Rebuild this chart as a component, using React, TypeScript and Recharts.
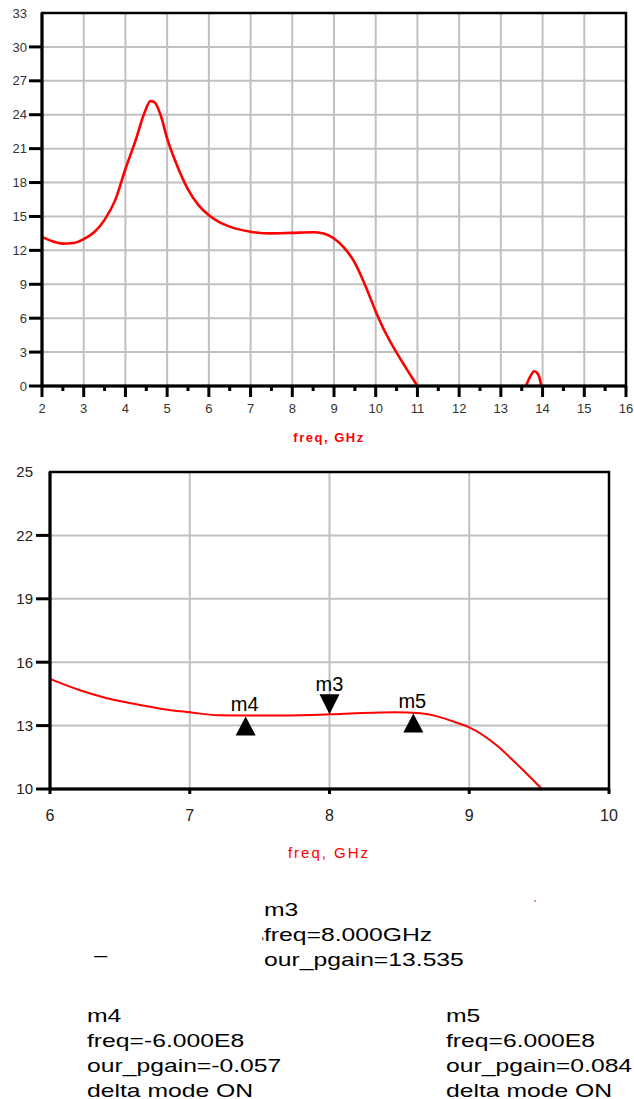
import React from 'react';
import { LineChart, Line, XAxis, YAxis, CartesianGrid, ReferenceArea, ReferenceDot } from 'recharts';

const FONT = '"Liberation Sans", Arial, sans-serif';

// Top chart: full sweep
const topFreq = [2.0, 2.25, 2.5, 2.75, 3.0, 3.25, 3.5, 3.75, 4.0, 4.25, 4.45, 4.6, 4.7, 4.85, 5.0, 5.25, 5.5, 5.75, 6.0, 6.25, 6.5, 7.0, 7.5, 8.0, 8.5, 8.75, 9.0, 9.25, 9.5, 9.75, 10.0, 10.25, 10.5, 10.75, 11.0, 11.5, 13.6, 13.7, 13.8, 13.9, 13.97];
const topGain: (number | null)[] = [13.2, 12.8, 12.6, 12.65, 13.0, 13.6, 14.7, 16.4, 19.2, 21.8, 24.1, 25.2, 25.1, 23.9, 21.9, 19.4, 17.4, 16.0, 15.1, 14.5, 14.1, 13.65, 13.5, 13.55, 13.6, 13.5, 13.05, 12.2, 10.9, 8.9, 6.6, 4.6, 2.95, 1.45, 0, null, 0, 0.8, 1.3, 1.0, 0];
const topXTicks = [2, 2.5, 3, 3.5, 4, 4.5, 5, 5.5, 6, 6.5, 7, 7.5, 8, 8.5, 9, 9.5, 10, 10.5, 11, 11.5, 12, 12.5, 13, 13.5, 14, 14.5, 15, 15.5, 16];
const topXMajor = [2, 3, 4, 5, 6, 7, 8, 9, 10, 11, 12, 13, 14, 15, 16];
const topYTicks = [0, 3, 6, 9, 12, 15, 18, 21, 24, 27, 30, 33];

// Bottom chart: zoomed 6-10 GHz
const zoomFreq = [6.0, 6.22, 6.4, 6.6, 6.8, 7.0, 7.2, 7.4, 7.66, 8.0, 8.24, 8.47, 8.65, 8.79, 8.9, 9.0, 9.2, 9.34, 9.52];
const zoomGain = [15.21, 14.66, 14.31, 14.03, 13.79, 13.63, 13.49, 13.478, 13.48, 13.535, 13.6, 13.63, 13.58, 13.4, 13.16, 12.92, 12.05, 11.18, 10.0];
const zoomXTicks = [6, 7, 8, 9, 10];
const zoomXGrid = [7, 8, 9];
const zoomYTicks = [10, 13, 16, 19, 22, 25];
const zoomYGrid = [13, 16, 19, 22];

// Markers
const markerNames = ['m3', 'm4', 'm5'];
const markerFreq = [8.0, 7.4, 8.6];
const markerGain = [13.535, 13.478, 13.619];
const markerDir = ['down', 'up', 'up'];

// Marker readouts
const m3Lines = ['m3', 'freq=8.000GHz', 'our_pgain=13.535'];
const m4Lines = ['m4', 'freq=-6.000E8', 'our_pgain=-0.057', 'delta mode ON'];
const m5Lines = ['m5', 'freq=6.000E8', 'our_pgain=0.084', 'delta mode ON'];

const topData = topFreq.map((f, i) => ({ freq: f, gain: topGain[i] }));
const zoomData = zoomFreq.map((f, i) => ({ freq: f, gain: zoomGain[i] }));

const makeXTick = (majorLen: number, minorLen: number, labelOff: number, fs: number, color: string) => (props: any) => {
  const { x, y, payload } = props;
  const v = payload.value;
  const major = Number.isInteger(v);
  return (
    <g>
      <line x1={x} x2={x} y1={y} y2={y + (major ? majorLen : minorLen)} stroke="#000" strokeWidth={3} />
      {major && (
        <text x={x} y={y + labelOff} dy="0.36em" textAnchor="middle" fontSize={fs} fill={color} fontFamily={FONT}>
          {v}
        </text>
      )}
    </g>
  );
};

const makeYTick = (len: number, gap: number, fs: number, color: string, maxV: number) => (props: any) => {
  const { x, y, payload } = props;
  const v = payload.value;
  return (
    <g>
      {v !== maxV && <line x1={x - len} x2={x} y1={y} y2={y} stroke="#000" strokeWidth={3} />}
      <text x={x - len - gap} y={y} dy="0.36em" textAnchor="end" fontSize={fs} fill={color} fontFamily={FONT}>
        {v}
      </text>
    </g>
  );
};

const markerShape = (name: string, dir: string) => (props: any) => {
  const { cx, cy } = props;
  if (dir === 'down') {
    return (
      <g>
        <polygon points={`${cx - 10},${cy - 20} ${cx + 10},${cy - 20} ${cx},${cy}`} fill="#000" />
        <text x={cx} y={cy - 23} textAnchor="middle" fontSize={20} fill="#000" fontFamily={FONT}>{name}</text>
      </g>
    );
  }
  return (
    <g>
      <polygon points={`${cx},${cy + 1} ${cx - 10},${cy + 20} ${cx + 10},${cy + 20}`} fill="#000" />
      <text x={cx - 1} y={cy - 4.5} textAnchor="middle" fontSize={20} fill="#000" fontFamily={FONT}>{name}</text>
    </g>
  );
};

const Block = ({ lines, left, top }: { lines: string[]; left: number; top: number }) => (
  <div
    style={{
      position: 'absolute',
      left,
      top,
      fontSize: 19,
      lineHeight: '25px',
      transform: 'scaleX(1.3)',
      transformOrigin: '0 0',
      whiteSpace: 'nowrap',
      color: '#000',
    }}
  >
    {lines.map((l) => (
      <div key={l}>{l}</div>
    ))}
  </div>
);

export default function App() {
  return (
    <div style={{ position: 'absolute', left: 0, top: 0, width: 634, height: 1099, background: '#fff', fontFamily: FONT, overflow: 'hidden' }}>
      <div style={{ position: 'absolute', left: 0, top: 0 }}>
        <LineChart width={634} height={460} data={topData} margin={{ top: 13, right: 8, bottom: 0, left: 0 }}>
          <CartesianGrid stroke="#c0c0c0" strokeWidth={2} verticalValues={topXMajor} horizontalValues={topYTicks} />
          <XAxis
            dataKey="freq"
            type="number"
            domain={[2, 16]}
            ticks={topXTicks}
            interval={0}
            height={74}
            tickSize={0}
            tickMargin={0}
            tickLine={false}
            axisLine={{ stroke: '#000', strokeWidth: 3 }}
            tick={makeXTick(11, 5, 22, 13, '#333')}
          />
          <YAxis
            type="number"
            domain={[0, 33]}
            ticks={topYTicks}
            interval={0}
            width={42}
            tickSize={0}
            tickMargin={0}
            tickLine={false}
            axisLine={{ stroke: '#000', strokeWidth: 3 }}
            tick={makeYTick(13, 2, 13, '#333', 33)}
          />
          <ReferenceArea x1={2} x2={16} y1={0} y2={33} fill="none" stroke="#000" strokeWidth={2.5} />
          <Line type="monotone" dataKey="gain" stroke="#ff0000" strokeWidth={2.6} dot={false} connectNulls={false} isAnimationActive={false} />
        </LineChart>
      </div>
      <div
        style={{
          position: 'absolute',
          left: 229,
          top: 431,
          width: 200,
          textAlign: 'center',
          fontSize: 13,
          lineHeight: '13px',
          fontWeight: 'bold',
          letterSpacing: 1.5,
          color: '#ff0000',
        }}
      >
        freq, GHz
      </div>

      <div style={{ position: 'absolute', left: 0, top: 450 }}>
        <LineChart width={634} height={420} data={zoomData} margin={{ top: 22, right: 25, bottom: 0, left: 0 }}>
          <CartesianGrid stroke="#c0c0c0" strokeWidth={2} verticalValues={zoomXGrid} horizontalValues={zoomYGrid} />
          <XAxis
            dataKey="freq"
            type="number"
            domain={[6, 10]}
            ticks={zoomXTicks}
            interval={0}
            height={81}
            tickSize={0}
            tickMargin={0}
            tickLine={false}
            axisLine={{ stroke: '#000', strokeWidth: 3 }}
            tick={makeXTick(5, 5, 26, 16, '#222')}
          />
          <YAxis
            type="number"
            domain={[10, 25]}
            ticks={zoomYTicks}
            interval={0}
            width={50}
            tickSize={0}
            tickMargin={0}
            tickLine={false}
            axisLine={{ stroke: '#000', strokeWidth: 3 }}
            tick={makeYTick(14, 3, 15, '#222', 25)}
          />
          <ReferenceArea x1={6} x2={10} y1={10} y2={25} fill="none" stroke="#000" strokeWidth={2.5} />
          <Line type="monotone" dataKey="gain" stroke="#ff0000" strokeWidth={2} dot={false} isAnimationActive={false} />
          {markerNames.map((n, i) => (
            <ReferenceDot key={n} x={markerFreq[i]} y={markerGain[i]} r={10} shape={markerShape(n, markerDir[i])} />
          ))}
        </LineChart>
      </div>
      <div
        style={{
          position: 'absolute',
          left: 229,
          top: 845,
          width: 200,
          textAlign: 'center',
          fontSize: 15,
          lineHeight: '15px',
          letterSpacing: 2,
          color: '#ff0000',
        }}
      >
        freq, GHz
      </div>

      <Block lines={m3Lines} left={264} top={896.5} />
      <Block lines={m4Lines} left={87} top={1002.5} />
      <Block lines={m5Lines} left={446} top={1002.5} />
      <div style={{ position: 'absolute', left: 261, top: 929, fontSize: 12, lineHeight: '12px', color: '#000' }}>,</div>
      <div style={{ position: 'absolute', left: 94, top: 942, fontSize: 19, lineHeight: '25px', transform: 'scaleX(1.25)', transformOrigin: '0 0', color: '#000' }}>–</div>
      <div style={{ position: 'absolute', left: 534, top: 899, fontSize: 9, lineHeight: '9px', color: '#000' }}>'</div>
    </div>
  );
}
